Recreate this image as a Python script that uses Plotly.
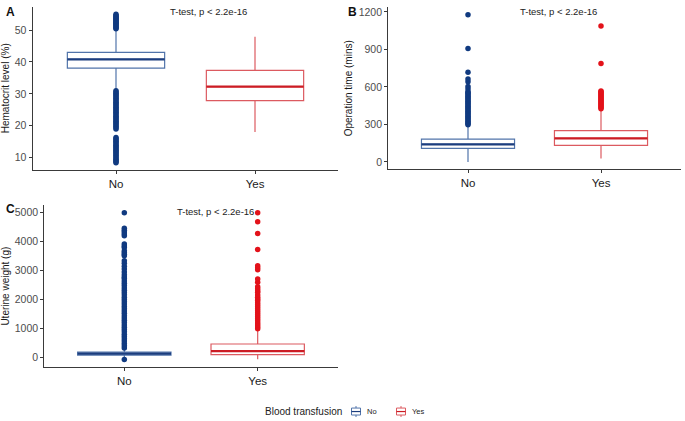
import plotly.graph_objects as go

# ---------------- data ----------------
groups = ["No", "Yes"]

# Panel A: Hematocrit level (%)
hct_q1 = [38.1, 27.9]
hct_med = [40.8, 32.3]
hct_q3 = [43.0, 37.4]
hct_lo = [31.4, 18.0]
hct_hi = [50.1, 47.9]
hct_out_no = [50.4, 50.7, 51.0, 51.3, 51.6, 51.9, 52.2, 52.5, 52.8, 53.1, 53.4, 53.7,
              54.0, 54.3, 54.6, 55.0,
              31.0, 30.6, 30.2, 29.8, 29.4, 29.0, 28.6, 28.2, 27.8, 27.4, 27.0, 26.6,
              26.2, 25.8, 25.4, 25.0, 24.6, 24.2, 23.8, 23.4, 23.0, 22.6, 22.2, 21.8,
              21.4, 21.0, 20.6, 20.2, 19.8, 19.4, 19.0,
              16.3, 15.9, 15.5, 15.1, 14.7, 14.3, 13.9, 13.5, 13.1, 12.7, 12.3, 11.9,
              11.5, 11.1, 10.7, 10.3, 9.9, 9.5, 9.1, 8.7, 8.4]
hct_out_yes = []

# Panel B: Operation time (mins)
op_q1 = [109, 133]
op_med = [141, 189]
op_q3 = [183, 250]
op_lo = [0, 27]
op_hi = [292, 418]
op_out_no = [297, 305, 315, 325, 335, 345, 355, 365, 375, 385, 395, 405, 415, 425,
             435, 445, 455, 465, 475, 485, 495, 505, 515, 525, 535, 545, 555, 562,
             584, 603, 642, 664, 717, 908, 1178]
op_out_yes = [425, 433, 441, 449, 457, 465, 473, 481, 489, 497, 505, 513, 521, 529,
              537, 545, 553, 561, 568, 788, 1088]

# Panel C: Uterine weight (g)
uw_q1 = [75, 95]
uw_med = [125, 210]
uw_q3 = [180, 460]
uw_lo = [0, -70]
uw_hi = [290, 930]
uw_out_no = [-80, 320, 400, 480, 560, 640, 720, 800, 880, 960, 1040, 1120, 1200, 1280,
             1360, 1440, 1520, 1600, 1680, 1760, 1840, 1920, 2000, 2080, 2160, 2240,
             2320, 2400, 2480, 2560, 2640, 2720, 2780, 2850, 2950, 3050, 3150, 3250,
             3338, 3510, 3560, 3620, 3682, 3796, 3850, 3913, 4200, 4260, 4330, 4395,
             4460, 5000]
uw_out_yes = [985, 1050, 1120, 1190, 1260, 1330, 1400, 1470, 1540, 1610, 1680, 1750,
              1820, 1890, 1960, 2019, 2080, 2150, 2248, 2300, 2370, 2443, 2592, 2708,
              3030, 3100, 3166, 3727, 4278, 4690, 5000]

panel_letters = ["A", "B", "C"]
ytitles = ["Hematocrit level (%)", "Operation time (mins)", "Uterine weight (g)"]
ptext = "T-test, p < 2.2e-16"
legend_title = "Blood transfusion"

# ---------------- style ----------------
W, H = 685, 421
FONT = "Liberation Sans, Arial, sans-serif"
box_line = ["#5174AA", "#DC5A60"]
med_line = ["#1B3D7E", "#CC1C24"]
pt_col = ["#103A80", "#E3121A"]
BOXW = 0.7

def px_x(a, b):
    return [a / W, b / W]

def px_y(top, bottom):
    return [1 - bottom / H, 1 - top / H]

panels = [
    dict(xa="x", ya="y", xd=px_x(32.6, 338.4), yd=px_y(4.9, 168.5), yr=[6.2, 57.3],
         q1=hct_q1, med=hct_med, q3=hct_q3, lo=hct_lo, hi=hct_hi,
         out=[hct_out_no, hct_out_yes], dtick=10, tick0=0),
    dict(xa="x2", ya="y2", xd=px_x(388.2, 680.8), yd=px_y(5.3, 168.1), yr=[-58.9, 1237],
         q1=op_q1, med=op_med, q3=op_q3, lo=op_lo, hi=op_hi,
         out=[op_out_no, op_out_yes], dtick=300, tick0=0),
    dict(xa="x3", ya="y3", xd=px_x(44.3, 337.7), yd=px_y(204.3, 366.7), yr=[-334, 5254],
         q1=uw_q1, med=uw_med, q3=uw_q3, lo=uw_lo, hi=uw_hi,
         out=[uw_out_no, uw_out_yes], dtick=1000, tick0=0),
]

fig = go.Figure()
for pi, p in enumerate(panels):
    for gi, g in enumerate(groups):
        fig.add_trace(go.Box(
            x=[gi], q1=[p["q1"][gi]], median=[p["med"][gi]], q3=[p["q3"][gi]],
            lowerfence=[p["lo"][gi]], upperfence=[p["hi"][gi]],
            width=BOXW, fillcolor="white", line=dict(color=box_line[gi], width=1.2),
            whiskerwidth=0, boxpoints=False, name=g, legendgroup=g,
            showlegend=False, xaxis=p["xa"], yaxis=p["ya"], hoverinfo="skip"))
        fig.add_trace(go.Scatter(
            x=[gi - BOXW / 2, gi + BOXW / 2], y=[p["med"][gi], p["med"][gi]],
            mode="lines", line=dict(color=med_line[gi], width=2.2),
            showlegend=False, xaxis=p["xa"], yaxis=p["ya"], hoverinfo="skip"))
        if p["out"][gi]:
            fig.add_trace(go.Scatter(
                x=[gi] * len(p["out"][gi]), y=p["out"][gi], mode="markers",
                marker=dict(color=pt_col[gi], size=5.5, line=dict(width=0)),
                showlegend=False, xaxis=p["xa"], yaxis=p["ya"], hoverinfo="skip"))

axis_common = dict(showline=True, linecolor="#3a3a3a", linewidth=1.2, ticks="outside",
                   ticklen=3, tickwidth=1, tickcolor="#3a3a3a", showgrid=False,
                   zeroline=False, mirror=False)

layout = dict(width=W, height=H, margin=dict(l=0, r=0, t=0, b=0),
              paper_bgcolor="white", plot_bgcolor="white", showlegend=False,
              font=dict(family=FONT, color="#222"))
for pi, p in enumerate(panels):
    sx = "" if pi == 0 else str(pi + 1)
    layout["xaxis" + sx] = dict(axis_common, domain=p["xd"], range=[-0.6, 1.6],
                                tickvals=[0, 1], ticktext=groups,
                                tickfont=dict(size=11.5, color="#1a1a1a"),
                                anchor="y" + sx)
    layout["yaxis" + sx] = dict(axis_common, domain=p["yd"], range=p["yr"],
                                dtick=p["dtick"], tick0=p["tick0"],
                                tickfont=dict(size=10.5, color="#4d4d4d"),
                                title=dict(text=ytitles[pi], font=dict(size=10, color="#1a1a1a"),
                                           standoff=4),
                                anchor="x" + sx)
fig.update_layout(**layout)

ann_pos = [(10, 10, 208, 10), (353, 10, 558, 10), (10, 208, 215, 210)]
for pi, (lx, ly, tx, ty) in enumerate(ann_pos):
    fig.add_annotation(text="<b>" + panel_letters[pi] + "</b>", x=lx / W, y=1 - ly / H,
                       xref="paper", yref="paper", showarrow=False,
                       font=dict(size=12, color="#111"), xanchor="center", yanchor="middle")
    fig.add_annotation(text=ptext, x=tx / W, y=1 - ty / H, xref="paper", yref="paper",
                       showarrow=False, font=dict(size=9.5, color="#222"),
                       xanchor="center", yanchor="middle")

# ---------------- legend (drawn manually, ggplot-style) ----------------
LEG_Y = 411.5
fig.add_annotation(text=legend_title, x=344 / W, y=1 - LEG_Y / H, xref="paper", yref="paper",
                   showarrow=False, xanchor="right", yanchor="middle",
                   font=dict(size=10, color="#222"))
key_x = [351.5, 396.5]
for gi, g in enumerate(groups):
    x0, x1 = key_x[gi], key_x[gi] + 9
    yt, yb = LEG_Y - 3.5, LEG_Y + 3.5
    xc = (x0 + x1) / 2
    # whisker stubs
    for (ya, yb2) in [(LEG_Y - 5.5, yt), (yb, LEG_Y + 5.5)]:
        fig.add_shape(type="line", xref="paper", yref="paper",
                      x0=xc / W, x1=xc / W, y0=1 - ya / H, y1=1 - yb2 / H,
                      line=dict(color=box_line[gi], width=1))
    fig.add_shape(type="rect", xref="paper", yref="paper",
                  x0=x0 / W, x1=x1 / W, y0=1 - yb / H, y1=1 - yt / H,
                  line=dict(color=box_line[gi], width=1), fillcolor="white")
    fig.add_shape(type="line", xref="paper", yref="paper",
                  x0=x0 / W, x1=x1 / W, y0=1 - LEG_Y / H, y1=1 - LEG_Y / H,
                  line=dict(color=med_line[gi], width=1.2))
    fig.add_annotation(text=g, x=(x1 + 4) / W, y=1 - LEG_Y / H, xref="paper", yref="paper",
                       showarrow=False, xanchor="left", yanchor="middle",
                       font=dict(size=7.5, color="#222"))

fig.write_html("out.html")
